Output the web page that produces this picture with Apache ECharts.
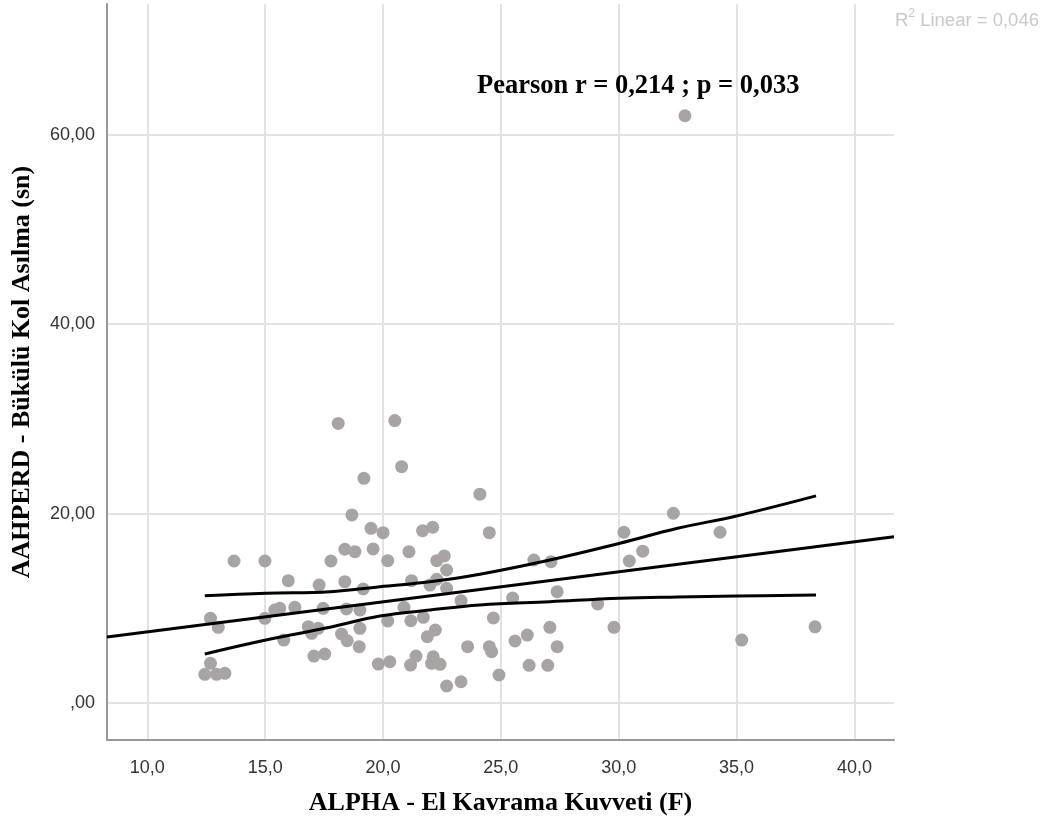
<!DOCTYPE html>
<html>
<head>
<meta charset="utf-8">
<script src="https://cdn.jsdelivr.net/npm/echarts@6/dist/echarts.min.js"></script>
<style>
html,body{margin:0;padding:0;background:#fff;}
#chart{width:1046px;height:823px;}
</style>
</head>
<body>
<div id="chart"></div>
<script>
// ---- data ----
const pointsX = [12.44,12.94,13.29,12.68,12.68,13.01,13.68,14.99,14.99,15.41,
  15.62,16.26,15.79,15.98,16.83,16.97,17.25,17.07,17.53,17.29,
  17.46,17.79,18.10,18.38,18.81,18.38,18.45,19.02,18.24,18.48,
  19.02,18.99,18.68,19.19,19.49,20.00,19.58,19.16,20.20,20.20,
  19.80,20.29,20.50,20.79,21.10,21.21,20.89,21.18,21.71,21.68,
  22.11,22.28,22.60,22.70,21.99,22.28,22.70,21.88,22.22,21.40,
  21.17,22.13,22.42,22.06,22.70,23.31,23.31,23.59,24.11,24.51,
  24.68,24.51,24.61,24.92,25.50,25.60,26.12,26.20,26.40,27.13,
  27.39,27.08,27.39,26.99,29.11,29.80,30.22,30.45,31.02,32.32,
  34.30,35.22,38.33,32.81];
const pointsY = [3.03,3.03,3.14,4.19,8.95,8.00,15.00,15.00,8.95,9.82,
  10.00,10.11,6.65,12.92,8.06,7.36,7.89,4.96,5.18,12.46,
  10.00,15.00,29.52,16.24,15.98,12.81,9.93,9.82,7.29,6.58,
  7.89,5.95,19.86,23.73,18.45,17.99,16.27,12.04,15.03,8.66,
  4.12,4.36,29.82,24.96,15.98,12.92,10.11,8.69,9.05,18.20,
  18.56,15.03,15.53,14.05,12.46,13.07,12.12,7.00,7.71,4.96,
  4.01,4.89,4.09,4.19,1.80,2.25,10.81,5.95,22.05,17.99,
  8.98,5.95,5.42,2.96,11.09,6.55,7.18,3.98,15.10,14.93,
  11.76,8.00,5.95,3.98,10.46,8.00,18.03,15.00,16.03,20.04,
  18.03,6.65,8.05,62.00];

// fit line (read at the plot edges)
const fitX = [8.29, 41.68];
const fitY = [6.97, 17.55];

// confidence band curves
const bandX = [12.44, 15.03, 17.75, 19.87, 21.99, 24.11, 27.08, 30.05, 32.5, 35.0, 38.37];
const upperY = [11.33, 11.6, 11.76, 12.29, 12.81, 13.6, 15.1, 16.87, 18.45, 19.75, 21.87];
const lowerY = [5.18, 6.65, 8.0, 9.19, 9.82, 10.35, 10.7, 11.06, 11.2, 11.3, 11.41];

const xTicks = [10, 15, 20, 25, 30, 35, 40];
const xTickLabels = ['10,0','15,0','20,0','25,0','30,0','35,0','40,0'];
const yTicks = [0, 20, 40, 60];
const yTickLabels = [',00','20,00','40,00','60,00'];

const xMin = 8.29, xMax = 41.68, yMin = -3.9, yMax = 73.8;

const xTitle = 'ALPHA - El Kavrama Kuvveti (F)';
const yTitle = 'AAHPERD - Bükülü Kol Asılma (sn)';
const statText = 'Pearson r = 0,214 ; p = 0,033';
const r2Value = '0,046';

// ---- build ----
const scatterData = pointsX.map((x, i) => [x, pointsY[i]]);
const fitData = fitX.map((x, i) => [x, fitY[i]]);
const upperData = bandX.map((x, i) => [x, upperY[i]]);
const lowerData = bandX.map((x, i) => [x, lowerY[i]]);

function lab(ticks, labels) {
  return function (v) {
    for (let i = 0; i < ticks.length; i++) if (Math.abs(ticks[i] - v) < 1e-6) return labels[i];
    return '';
  };
}

const sans = '"Liberation Sans", Arial, sans-serif';
const serif = '"Liberation Serif", "Times New Roman", serif';

const chart = echarts.init(document.getElementById('chart'), null, {renderer: 'canvas'});
const lineBase = {type: 'line', symbol: 'none', silent: true, z: 5,
  lineStyle: {color: '#000', width: 3}};

chart.setOption({
  animation: false,
  backgroundColor: '#ffffff',
  grid: {left: 107, right: 152, top: 4, bottom: 83},
  xAxis: {
    type: 'value', min: xMin, max: xMax,
    name: xTitle, nameLocation: 'middle', nameGap: 50,
    nameTextStyle: {fontFamily: serif, fontWeight: 'bold', fontSize: 26, color: '#000'},
    axisLine: {show: true, onZero: false, lineStyle: {color: '#999', width: 2}},
    axisTick: {show: false, customValues: xTicks},
    axisLabel: {customValues: xTicks, formatter: lab(xTicks, xTickLabels),
      fontFamily: sans, fontSize: 18, color: '#333', margin: 19},
    splitLine: {show: true, lineStyle: {color: '#e2e2e2', width: 2}}
  },
  yAxis: {
    type: 'value', min: yMin, max: yMax,
    name: yTitle, nameLocation: 'middle', nameGap: 72, nameRotate: 90,
    nameTextStyle: {fontFamily: serif, fontWeight: 'bold', fontSize: 26, color: '#000'},
    axisLine: {show: true, onZero: false, lineStyle: {color: '#999', width: 2}},
    axisTick: {show: false, customValues: yTicks},
    axisLabel: {customValues: yTicks, formatter: lab(yTicks, yTickLabels),
      fontFamily: sans, fontSize: 18, color: '#333', margin: 12, padding: [5, 0, 0, 0]},
    splitLine: {show: true, lineStyle: {color: '#e2e2e2', width: 2}}
  },
  series: [
    {type: 'scatter', data: scatterData, symbol: 'circle', symbolSize: 13, z: 2,
      itemStyle: {color: '#a8a4a4', opacity: 1}},
    Object.assign({}, lineBase, {data: fitData}),
    Object.assign({}, lineBase, {data: upperData, smooth: 0.4}),
    Object.assign({}, lineBase, {data: lowerData, smooth: 0.4})
  ],
  graphic: [
    {type: 'text', left: 477, top: 73, z: 10,
      style: {text: statText, fontFamily: serif, fontWeight: 'bold', fontSize: 26.5, fill: '#000'}},
    {type: 'text', left: 895, top: 8, z: 10,
      style: {text: '{n|R}{s|2}{n| Linear = ' + r2Value + '}',
        rich: {
          n: {fontFamily: sans, fontSize: 18.5, fill: '#c8c8c8', lineHeight: 22, verticalAlign: 'bottom'},
          s: {fontFamily: sans, fontSize: 12, fill: '#c8c8c8', lineHeight: 12, verticalAlign: 'top'}
        }}}
  ]
});
</script>
</body>
</html>
